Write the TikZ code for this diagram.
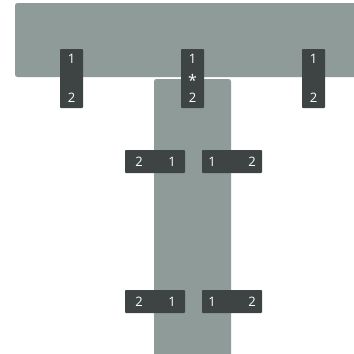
\documentclass[tikz,border=0pt]{standalone}
\usepackage{fontspec}
\setmainfont{Open Sans}
\definecolor{barg}{HTML}{8F9B99}
\definecolor{pin}{HTML}{3E4444}
\begin{document}
\begin{tikzpicture}[x=1pt,y=-1pt,
  bar/.style={fill=barg,draw=none,rounded corners=2.5pt},
  pinbox/.style={fill=pin,draw=none,rounded corners=0.8pt},
  lab/.style={text=white,font=\fontsize{13}{14}\selectfont,inner sep=0pt,anchor=center}]
\useasboundingbox (0,0) rectangle (354,354);
\clip (0,0) rectangle (354,354);
\fill[white] (0,0) rectangle (354,354);
% bars
\path[bar] (15,3) rectangle (370,77);
\path[bar] (154,79) rectangle (231,370);
% vertical pins
\foreach \n/\x in {a/60,b/181,c/302}{
  \path[pinbox] (\x,49) rectangle ++(23,59);
  \node[lab] (\n1) at (\x+11.5,59) {1};
  \node[lab] (\n2) at (\x+11.5,98) {2};
}
\node[lab,font=\fontsize{16}{16}\selectfont] (bs) at (192.5,80) {*};
% horizontal pins
\foreach \n/\y in {u/150,d/290}{
  \path[pinbox] (125,\y) rectangle ++(60,23);
  \node[lab] (\n l2) at (139,\y+11.5) {2};
  \node[lab] (\n l1) at (172,\y+11.5) {1};
  \path[pinbox] (202,\y) rectangle ++(60,23);
  \node[lab] (\n r1) at (212,\y+11.5) {1};
  \node[lab] (\n r2) at (252,\y+11.5) {2};
}
\end{tikzpicture}
\end{document}
